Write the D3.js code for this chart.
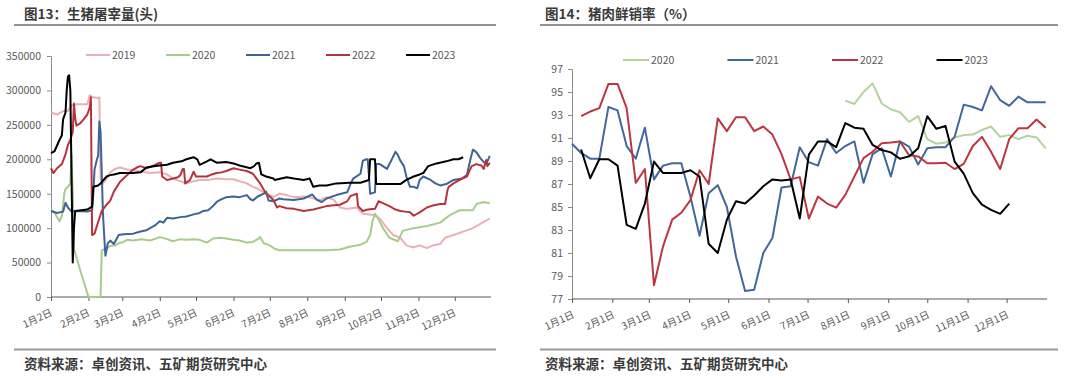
<!DOCTYPE html>
<html><head><meta charset="utf-8">
<script src="https://cdn.jsdelivr.net/npm/d3@7"></script>
<style>
body{margin:0;background:#fff;}
svg{display:block;font-family:"Noto Sans CJK SC","Noto Sans",sans-serif;}
</style></head><body>
<svg id="c" width="1080" height="380"></svg>
<script>
// ---------- Left chart: 生猪屠宰量 (day offset from 1月2日, value) ----------
const leftTitle = "图13：生猪屠宰量(头)";
const rightTitle = "图14：猪肉鲜销率（%）";
const sourceText = "资料来源：卓创资讯、五矿期货研究中心";
const leftTickLabels = ["1月2日","2月2日","3月2日","4月2日","5月2日","6月2日","7月2日","8月2日","9月2日","10月2日","11月2日","12月2日"];
const rightTickLabels = ["1月1日","2月1日","3月1日","4月1日","5月1日","6月1日","7月1日","8月1日","9月1日","10月1日","11月1日","12月1日"];
const leftYTicks = [0,50000,100000,150000,200000,250000,300000,350000];
const rightYTicks = [77,79,81,83,85,87,89,91,93,95,97];
const leftYears = ["2019","2020","2021","2022","2023"];
const rightYears = ["2020","2021","2022","2023"];

const s2019 = [[0,268000],[5,265000],[10,270000],[14,270000],[17,278000],[21,280000],[30,280000],[32,293000],[35,290000],[39,289000],[40,290000],[41,170000],[43,165000],[46,172000],[49,181000],[53,186000],[57,188000],[63,185000],[68,184000],[75,182000],[82,180000],[90,181000],[96,178000],[101,172000],[107,168000],[112,165000],[118,168000],[123,170000],[130,170000],[137,172000],[145,171000],[151,171000],[156,168000],[162,165000],[167,160000],[170,158000],[175,153000],[178,151000],[184,145000],[189,150000],[195,148000],[201,145000],[209,146000],[214,145000],[219,142000],[223,141000],[228,145000],[234,141000],[239,130000],[245,128000],[253,130000],[258,121000],[267,119000],[272,114000],[278,100000],[283,90000],[289,86000],[294,75000],[300,72000],[305,75000],[311,71000],[316,75000],[322,77000],[326,86000],[333,90000],[341,95000],[349,100000],[358,109000],[363,114000]];
const s2020 = [[0,127000],[3,122000],[7,110000],[9,118000],[11,150000],[12,157000],[14,160000],[16,165000],[17,207000],[18,150000],[19,70000],[24,40000],[31,0],[41,0],[42,68000],[46,70000],[49,74000],[53,75000],[56,78000],[60,80000],[63,83000],[68,82000],[75,84000],[82,82000],[90,87000],[96,84000],[101,81000],[107,84000],[112,83000],[118,84000],[123,83000],[129,79000],[134,85000],[140,86000],[145,85000],[151,83000],[156,82000],[162,79000],[167,80000],[171,84000],[173,87000],[176,78000],[181,75000],[185,70000],[189,68000],[201,68000],[214,68000],[228,68000],[239,69000],[247,73000],[256,76000],[261,80000],[264,90000],[266,110000],[268,121000],[270,116000],[275,99000],[280,86000],[287,81000],[291,96000],[300,100000],[311,103000],[322,108000],[330,119000],[338,126000],[349,126000],[352,135000],[358,138000],[363,136000]];
const s2021 = [[0,125000],[5,122000],[10,124000],[12,137000],[14,130000],[17,124000],[20,125000],[30,124000],[34,126000],[35,150000],[36,185000],[38,200000],[39,205000],[40,255000],[41,240000],[43,120000],[45,60000],[47,78000],[49,82000],[52,77000],[56,90000],[60,91000],[68,92000],[74,95000],[79,97000],[82,100000],[86,104000],[90,110000],[93,108000],[96,115000],[101,114000],[107,116000],[112,117000],[118,120000],[123,122000],[126,125000],[130,126000],[134,132000],[137,138000],[140,141000],[145,145000],[151,146000],[156,145000],[162,148000],[165,142000],[167,140000],[171,146000],[176,150000],[178,153000],[180,140000],[184,139000],[189,143000],[192,142000],[201,141000],[209,143000],[214,147000],[216,149000],[220,141000],[224,138000],[228,143000],[236,148000],[245,152000],[248,165000],[250,172000],[256,179000],[258,198000],[261,200000],[262,200000],[263,177000],[264,150000],[268,152000],[269,193000],[272,193000],[278,186000],[282,200000],[285,211000],[287,206000],[289,198000],[292,190000],[294,175000],[297,160000],[300,160000],[303,158000],[305,170000],[308,175000],[314,170000],[318,165000],[322,162000],[327,164000],[333,170000],[340,172000],[344,177000],[347,200000],[349,214000],[352,210000],[355,202000],[358,196000],[360,193000],[363,205000]];
const s2022 = [[0,187000],[2,180000],[5,187000],[9,193000],[12,207000],[14,221000],[16,228000],[18,240000],[19,281000],[20,260000],[21,249000],[24,252000],[27,258000],[30,265000],[32,275000],[33,290000],[34,90000],[36,92000],[39,109000],[42,125000],[46,134000],[49,140000],[52,153000],[57,167000],[60,172000],[63,177000],[68,185000],[71,188000],[74,190000],[79,187000],[85,191000],[90,195000],[91,195000],[92,175000],[96,170000],[101,172000],[105,174000],[107,177000],[109,186000],[110,186000],[111,165000],[115,170000],[118,182000],[120,175000],[124,175000],[129,175000],[133,178000],[137,180000],[141,181000],[145,183000],[151,187000],[156,185000],[162,183000],[167,179000],[173,165000],[178,150000],[181,146000],[184,141000],[187,130000],[189,132000],[195,129000],[201,128000],[209,125000],[217,127000],[228,132000],[239,134000],[245,139000],[248,147000],[250,148000],[253,150000],[254,132000],[258,125000],[262,127000],[268,128000],[271,139000],[275,136000],[280,132000],[285,127000],[289,125000],[293,124000],[297,123000],[300,118000],[305,123000],[311,130000],[316,133000],[322,135000],[326,135000],[328,155000],[329,160000],[333,165000],[338,170000],[344,175000],[348,190000],[352,193000],[356,191000],[358,186000],[360,199000],[361,190000],[363,195000]];
const s2023 = [[0,209000],[3,212000],[5,220000],[7,228000],[9,235000],[10,258000],[12,268000],[13,300000],[14,320000],[15,322000],[16,300000],[18,50000],[19,100000],[20,125000],[25,126000],[30,127000],[33,130000],[34,131000],[35,160000],[39,162000],[41,165000],[46,175000],[49,177000],[52,178000],[57,180000],[63,180000],[68,180000],[74,181000],[79,188000],[85,190000],[90,191000],[96,192000],[101,195000],[108,197000],[112,200000],[118,203000],[121,200000],[123,192000],[129,197000],[132,200000],[137,195000],[145,196000],[151,194000],[156,191000],[165,187000],[168,190000],[170,194000],[172,195000],[174,178000],[178,175000],[184,172000],[185,170000],[195,174000],[201,172000],[209,170000],[214,172000],[217,160000],[222,162000],[228,162000],[236,165000],[247,166000],[256,166000],[263,170000],[264,200000],[266,200000],[268,200000],[269,164000],[275,164000],[283,164000],[289,164000],[294,170000],[300,175000],[305,178000],[308,180000],[312,190000],[319,194000],[327,197000],[333,200000],[337,200000],[341,203000]];

// ---------- Right chart: 猪肉鲜销率, weekly from 1月1日 ----------
const r2020 = [null,null,null,null,null,null,null,null,null,null,null,null,null,null,null,null,null,null,null,null,null,null,null,null,null,null,null,null,null,null,94.25,93.96,95.0,95.75,94.0,93.5,93.24,92.4,92.9,90.9,90.5,90.6,91.05,91.25,91.3,91.7,92.0,91.1,91.25,90.9,91.2,91.05,90.1];
const r2021 = [90.5,89.7,89.2,89.2,93.7,93.4,90.3,89.2,91.9,87.4,88.6,88.8,88.8,85.9,82.5,86.2,86.9,85.0,80.7,77.7,77.8,81.0,82.3,86.7,86.8,90.2,88.9,88.6,90.9,89.7,90.3,90.7,87.1,89.6,90.1,87.65,90.7,90.25,88.7,90.1,90.2,90.2,91.1,93.9,93.7,93.4,95.5,94.3,93.8,94.6,94.1,94.1,94.1];
const r2022 = [null,92.9,93.3,93.6,95.7,95.7,93.6,87.1,88.3,78.2,81.6,83.9,84.5,85.6,88.2,87.0,92.7,91.6,92.8,92.8,91.6,92.0,91.3,89.6,87.4,87.6,84.0,85.9,85.3,84.95,86.05,87.65,89.25,89.8,90.55,90.6,90.7,89.5,89.4,88.8,88.8,88.85,88.3,88.75,90.3,91.1,89.8,88.3,90.9,91.85,91.85,92.6,91.9];
const r2023 = [null,90.0,87.5,89.15,89.15,88.6,83.45,83.1,85.3,88.95,87.95,87.95,87.95,88.2,87.65,81.8,81.0,83.9,85.5,85.3,86.0,86.8,87.4,87.3,87.4,84.0,89.55,90.7,90.7,90.2,92.3,91.9,91.8,90.4,89.95,89.75,89.2,89.4,90.1,92.9,91.8,92.05,88.95,87.9,86.2,85.2,84.75,84.4,85.3,null,null,null,null];

const leftColors = {"2019":"#eab0b6","2020":"#a8cc8c","2021":"#3e6496","2022":"#b8323e","2023":"#000000"};
const rightColors = {"2020":"#b3d39a","2021":"#42679a","2022":"#be3540","2023":"#000000"};
const leftSeries = {"2019":s2019,"2020":s2020,"2021":s2021,"2022":s2022,"2023":s2023};
const rightSeries = {"2020":r2020,"2021":r2021,"2022":r2022,"2023":r2023};

const svg = d3.select("#c");
svg.append("rect").attr("width",1080).attr("height",380).attr("fill","#fff");

function frame(x0, x1, tx, title){
  svg.append("text").attr("x", tx).attr("y", 19).attr("font-size", 13.5).attr("font-weight", "bold")
    .attr("fill", "#3a3a3a").text(title);
  svg.append("line").attr("x1", x0).attr("x2", x1).attr("y1", 25).attr("y2", 25)
    .attr("stroke", "#6e6e6e").attr("stroke-width", 1.3);
  svg.append("line").attr("x1", x0).attr("x2", x1).attr("y1", 349.5).attr("y2", 349.5)
    .attr("stroke", "#9a9a9a").attr("stroke-width", 1.8);
  svg.append("text").attr("x", tx).attr("y", 369).attr("font-size", 13.5).attr("font-weight", "bold")
    .attr("fill", "#3a3a3a").text(sourceText);
}
frame(14, 496, 24, leftTitle);
frame(540, 1058, 545, rightTitle);

// ---------- Left chart ----------
const base0 = new Date(2023,0,2);
const lx = d3.scaleTime().domain([base0, new Date(2024,0,1)]).range([51, 491]);
const ly = d3.scaleLinear().domain([0, 350000]).range([297, 56]);
const gL = svg.append("g");

const yAxL = d3.axisLeft(ly).tickValues(leftYTicks).tickSize(4).tickPadding(6).tickFormat(d3.format("d"));
const gyL = gL.append("g").attr("transform","translate(51,0)").call(yAxL);
gyL.select(".domain").attr("stroke","#8c8c8c");
gyL.selectAll(".tick line").attr("stroke","#8c8c8c");
gyL.selectAll("text").attr("font-size",10.5).attr("fill","#595959").attr("font-family","Noto Sans CJK SC");

const leftTickDates = leftTickLabels.map((l,i)=> new Date(2023,i,2));
const xAxL = d3.axisBottom(lx).tickValues(leftTickDates).tickSize(4).tickFormat("");
const gxL = gL.append("g").attr("transform","translate(0,297)").call(xAxL);
gxL.select(".domain").attr("stroke","#595959").attr("d","M51,0H491");
gxL.selectAll(".tick line").attr("stroke","#595959");
gL.selectAll(".xl").data(leftTickDates).enter().append("text")
  .attr("transform",(d)=>`translate(${lx(d)+2},315) rotate(-25)`)
  .attr("text-anchor","end").attr("font-size",10).attr("fill","#595959")
  .text((d,i)=>leftTickLabels[i]);

const lineL = d3.line().x(d=>lx(d3.timeDay.offset(base0, d[0]))).y(d=>ly(d[1]));
leftYears.forEach(y=>{
  gL.append("path").datum(leftSeries[y]).attr("fill","none").attr("stroke",leftColors[y])
    .attr("stroke-width", 2).attr("stroke-linejoin","round").attr("d", lineL);
});
leftYears.forEach((y,i)=>{
  const lx0 = 86 + i*80;
  gL.append("line").attr("x1",lx0).attr("x2",lx0+24).attr("y1",55).attr("y2",55)
    .attr("stroke",leftColors[y]).attr("stroke-width",2);
  gL.append("text").attr("x",lx0+26).attr("y",59).attr("font-size",10.5).attr("fill","#595959").text(y);
});

// ---------- Right chart ----------
const base1 = new Date(2023,0,1);
const rx = d3.scaleTime().domain([base1, new Date(2024,0,1)]).range([572, 1047]);
const ry = d3.scaleLinear().domain([77, 97]).range([299, 69]);
const gR = svg.append("g");
const yAxR = d3.axisLeft(ry).tickValues(rightYTicks).tickSize(4).tickPadding(5);
const gyR = gR.append("g").attr("transform","translate(572,0)").call(yAxR);
gyR.select(".domain").attr("stroke","#8c8c8c");
gyR.selectAll(".tick line").attr("stroke","#8c8c8c");
gyR.selectAll("text").attr("font-size",10.5).attr("fill","#595959").attr("font-family","Noto Sans CJK SC");

const rightTickDates = rightTickLabels.map((l,i)=> new Date(2023,i,1));
const xAxR = d3.axisBottom(rx).tickValues(rightTickDates).tickSize(4).tickFormat("");
const gxR = gR.append("g").attr("transform","translate(0,299)").call(xAxR);
gxR.select(".domain").attr("stroke","#595959").attr("d","M572,0H1047");
gxR.selectAll(".tick line").attr("stroke","#595959");
gR.selectAll(".xr").data(rightTickDates).enter().append("text")
  .attr("transform",(d)=>`translate(${rx(d)+3},317) rotate(-25)`)
  .attr("text-anchor","end").attr("font-size",10).attr("fill","#595959")
  .text((d,i)=>rightTickLabels[i]);

const lineR = d3.line().defined(d=>d!==null)
  .x((d,i)=>rx(d3.timeDay.offset(base1, i*7))).y(d=>ry(d));
rightYears.forEach(y=>{
  gR.append("path").datum(rightSeries[y]).attr("fill","none").attr("stroke",rightColors[y])
    .attr("stroke-width", 2).attr("stroke-linejoin","round").attr("d", lineR);
});
rightYears.forEach((y,i)=>{
  const lx0 = 623 + i*104.5;
  gR.append("line").attr("x1",lx0).attr("x2",lx0+26).attr("y1",60).attr("y2",60)
    .attr("stroke",rightColors[y]).attr("stroke-width",2);
  gR.append("text").attr("x",lx0+28).attr("y",64).attr("font-size",10.5).attr("fill","#595959").text(y);
});
</script></body></html>
